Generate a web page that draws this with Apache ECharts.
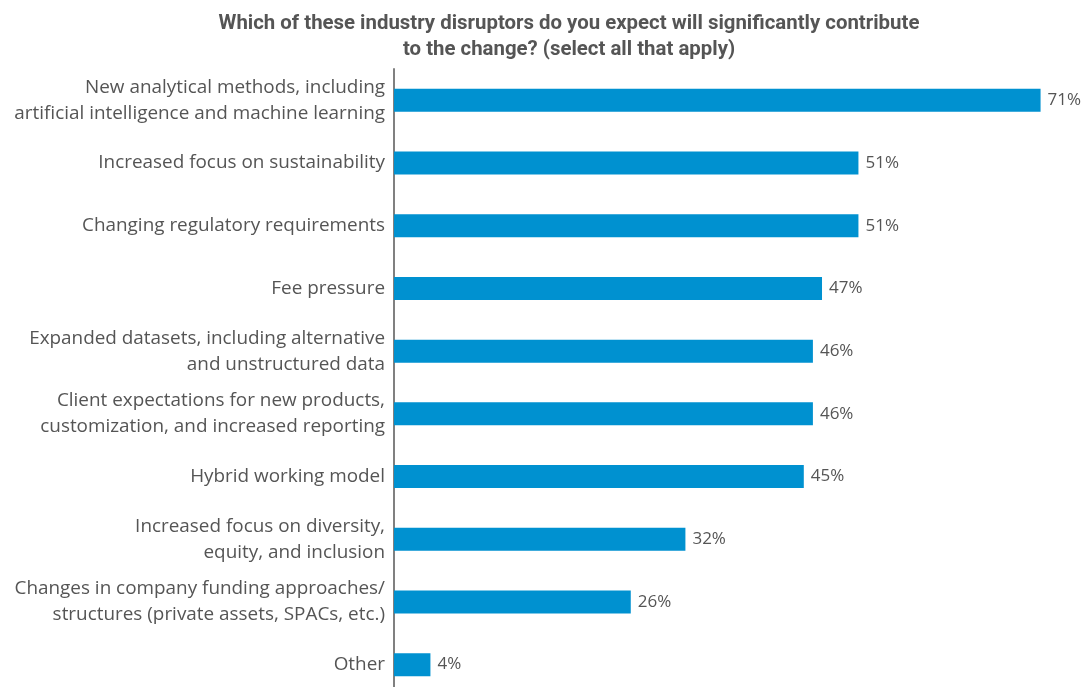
<!DOCTYPE html>
<html><head><meta charset="utf-8">
<script src="https://cdn.jsdelivr.net/npm/echarts@6/dist/echarts.min.js"></script>
<style>html,body{margin:0;padding:0;background:#fff}#c{width:1083px;height:687px}</style>
</head><body><div id="c"></div>
<script>
const titleText = 'Which of these industry disruptors do you expect will significantly contribute\nto the change? (select all that apply)';
const categories = [
  'New analytical methods, including\nartificial intelligence and machine learning',
  'Increased focus on sustainability',
  'Changing regulatory requirements',
  'Fee pressure',
  'Expanded datasets, including alternative\nand unstructured data',
  'Client expectations for new products,\ncustomization, and increased reporting',
  'Hybrid working model',
  'Increased focus on diversity,\nequity, and inclusion',
  'Changes in company funding approaches/\nstructures (private assets, SPACs, etc.)',
  'Other'
];
const values = [71, 51, 51, 47, 46, 46, 45, 32, 26, 4];

const chart = echarts.init(document.getElementById('c'));
chart.setOption({
  animation: false,
  title: {
    text: titleText, left: 564, top: 6, textAlign: 'center',
    textStyle: {fontFamily: 'Roboto', fontWeight: 'bold', fontSize: 20.4, color: '#555', lineHeight: 26}
  },
  grid: {left: 394, top: 69, width: 683, height: 627, containLabel: false, outerBoundsMode: 'none'},
  xAxis: {type: 'value', min: 0, max: 75, show: false},
  yAxis: {
    type: 'category', data: categories, inverse: true,
    axisLine: {show: true, lineStyle: {color: '#808080', width: 2}},
    axisTick: {show: false},
    axisLabel: {fontFamily: 'Open Sans', fontSize: 18.9, color: '#555', lineHeight: 26, margin: 9}
  },
  series: [{
    type: 'bar', data: values, barWidth: 23,
    itemStyle: {color: '#0091D0'},
    label: {show: true, position: 'right', distance: 7, formatter: p => p.value + '%',
      fontFamily: 'Open Sans', fontSize: 17, color: '#555'}
  }]
});
</script></body></html>
